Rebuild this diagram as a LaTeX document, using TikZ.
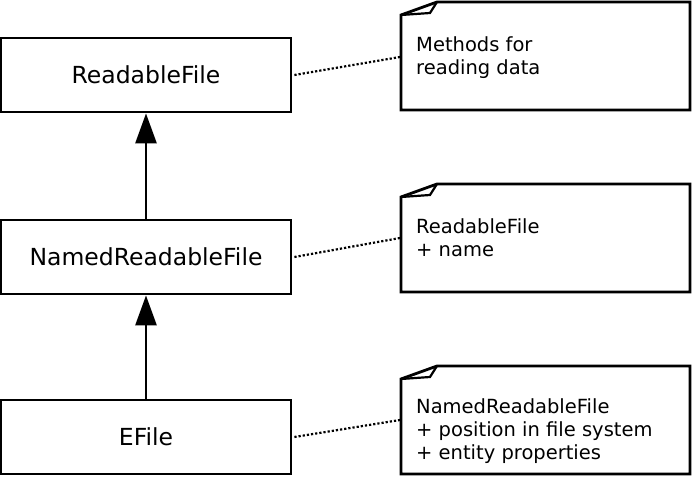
\documentclass[tikz,border=0pt]{standalone}
\usepackage{fontspec}
\setmainfont{DejaVu Sans}
\usetikzlibrary{arrows.meta}
\begin{document}
\begin{tikzpicture}[x=1pt,y=-1pt,
  box/.style={draw,line width=2.8pt,minimum width=290pt,minimum height=74pt,inner sep=0pt,font=\fontsize{23.5}{28}\selectfont},
  ntext/.style={anchor=north west,align=left,inner sep=0pt,font=\fontsize{19.5}{23}\selectfont},
  dot/.style={line width=2.2pt,dotted},
  inh/.style={line width=2.8pt,-{Triangle[length=30pt,width=21pt]}}]
\useasboundingbox (0,0) rectangle (694,478);
\node[box] (a) at (146,75) {ReadableFile};
\node[box] (b) at (146,257) {NamedReadableFile};
\node[box] (c) at (146,437) {EFile};
\draw[inh] (b) -- (a);
\draw[inh] (c) -- (b);
\foreach \n/\t/\bb/\ty/\txt in {n1/2/110/36/{Methods for\\reading data},n2/184/292/218/{ReadableFile\\+ name},n3/366/474/398/{NamedReadableFile\\+ position in file system\\+ entity properties}}{
  \draw[line width=2.8pt,line join=miter] (401,\bb) -- (401,\t+13) -- (437,\t) -- (690,\t) -- (690,\bb) -- cycle;
  \draw[line width=2.2pt] (401,\t+13) -- (430,\t+11) -- (437,\t);
  \node[ntext] (\n) at (416,\ty) {\txt};
}
\coordinate (e1) at (400,57);
\coordinate (e2) at (400,238);
\coordinate (e3) at (400,420);
\draw[dot] (a.east) ++(2,0) -- (e1);
\draw[dot] (b.east) ++(2,0) -- (e2);
\draw[dot] (c.east) ++(2,0) -- (e3);
\end{tikzpicture}
\end{document}
